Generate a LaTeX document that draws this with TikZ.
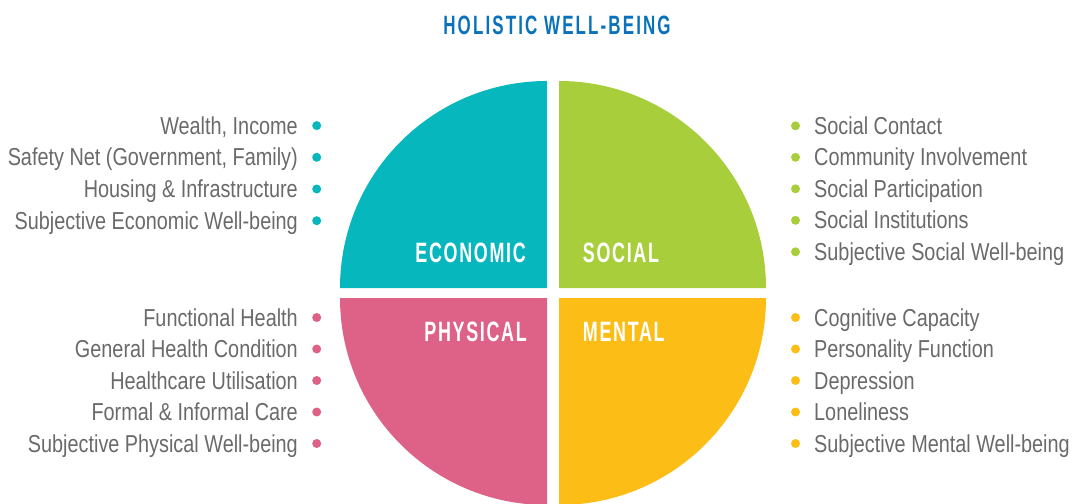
\documentclass[tikz,border=0pt]{standalone}
\usepackage{fontspec}
\setmainfont{Liberation Sans}[FakeStretch=0.81]
\newfontfamily\headfont{Liberation Sans}[FakeStretch=0.64,LetterSpace=6]
\newfontfamily\titlefont{Liberation Sans}[FakeStretch=0.64,LetterSpace=8]
\definecolor{econ}{HTML}{06B8BD}
\definecolor{soc}{HTML}{A8CF3B}
\definecolor{phys}{HTML}{DE6287}
\definecolor{ment}{HTML}{FBBD16}
\definecolor{txt}{HTML}{6A6A6C}
\definecolor{titleblue}{HTML}{0A72BA}
\tikzset{
  item/.style={inner sep=0pt, text=txt, font=\fontsize{24.5}{28}\selectfont},
  itemL/.style={item, anchor=base east},
  itemR/.style={item, anchor=base west},
  dot/.style={circle, fill=#1, inner sep=0pt, minimum size=9pt},
  quadlabel/.style={inner sep=0pt, text=white, font=\headfont\bfseries\fontsize{28}{30}\selectfont},
}
\begin{document}
\begin{tikzpicture}[x=1pt,y=-1pt]
\useasboundingbox (0,0) rectangle (1078,503);

% title
\node[inner sep=0pt, anchor=base, text=titleblue,
      font=\titlefont\bfseries\fontsize{26.5}{28}\selectfont] (title) at (557,34.5) {HOLISTIC WELL-BEING};

% four quadrants of the circle, separated by a white cross
\fill[econ] (547,288) -- (340,288) arc[start angle=180, end angle=270, radius=207] -- cycle;
\fill[soc]  (559,288) -- (559,81)  arc[start angle=270, end angle=360, radius=207] -- cycle;
\fill[ment] (559,298) -- (766,298) arc[start angle=0,   end angle=90,  radius=207] -- cycle;
\fill[phys] (547,298) -- (547,505) arc[start angle=90,  end angle=180, radius=207] -- cycle;

% quadrant labels
\node[quadlabel, anchor=base east] (lecon) at (526,262.7) {ECONOMIC};
\node[quadlabel, anchor=base west] (lsoc)  at (582.7,262.7) {SOCIAL};
\node[quadlabel, anchor=base east] (lphys) at (527,341.7) {PHYSICAL};
\node[quadlabel, anchor=base west] (lment) at (582.7,341.7) {MENTAL};

% economic items
\node[dot=econ] (de1) at (316.7,125.6) {};
\node[dot=econ] (de2) at (316.7,157.3) {};
\node[dot=econ] (de3) at (316.7,189.0) {};
\node[dot=econ] (de4) at (316.7,220.7) {};
\node[itemL] (e1) at (298,134.2) {Wealth, Income};
\node[itemL] (e2) at (298,165.9) {Safety Net (Government, Family)};
\node[itemL] (e3) at (298,197.6) {Housing \& Infrastructure};
\node[itemL] (e4) at (298,229.3) {Subjective Economic Well-being};

% physical items
\node[dot=phys] (dp1) at (316.7,317.5) {};
\node[dot=phys] (dp2) at (316.7,349.0) {};
\node[dot=phys] (dp3) at (316.7,380.5) {};
\node[dot=phys] (dp4) at (316.7,412.0) {};
\node[dot=phys] (dp5) at (316.7,443.5) {};
\node[itemL] (p1) at (298,326.0) {Functional Health};
\node[itemL] (p2) at (298,357.5) {General Health Condition};
\node[itemL] (p3) at (298,389.0) {Healthcare Utilisation};
\node[itemL] (p4) at (298,420.5) {Formal \& Informal Care};
\node[itemL] (p5) at (298,452.0) {Subjective Physical Well-being};

% social items
\node[dot=soc] (ds1) at (795.5,125.8) {};
\node[dot=soc] (ds2) at (795.5,157.3) {};
\node[dot=soc] (ds3) at (795.5,188.8) {};
\node[dot=soc] (ds4) at (795.5,220.3) {};
\node[dot=soc] (ds5) at (795.5,251.8) {};
\node[itemR] (s1) at (814,134.3) {Social Contact};
\node[itemR] (s2) at (814,165.8) {Community Involvement};
\node[itemR] (s3) at (814,197.3) {Social Participation};
\node[itemR] (s4) at (814,228.8) {Social Institutions};
\node[itemR] (s5) at (814,260.3) {Subjective Social Well-being};

% mental items
\node[dot=ment] (dm1) at (795.5,317.5) {};
\node[dot=ment] (dm2) at (795.5,349.0) {};
\node[dot=ment] (dm3) at (795.5,380.5) {};
\node[dot=ment] (dm4) at (795.5,412.0) {};
\node[dot=ment] (dm5) at (795.5,443.5) {};
\node[itemR] (m1) at (814,326.0) {Cognitive Capacity};
\node[itemR] (m2) at (814,357.5) {Personality Function};
\node[itemR] (m3) at (814,389.0) {Depression};
\node[itemR] (m4) at (814,420.5) {Loneliness};
\node[itemR] (m5) at (814,452.0) {Subjective Mental Well-being};
\end{tikzpicture}
\end{document}
